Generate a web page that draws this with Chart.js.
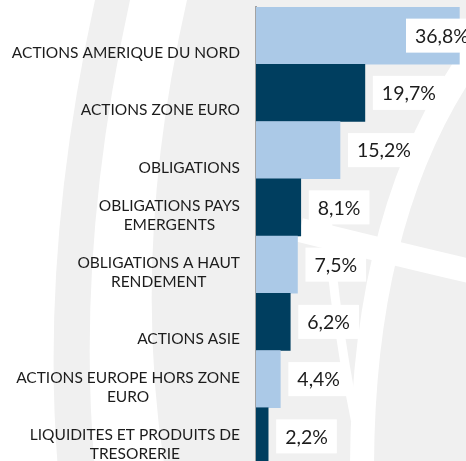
<!DOCTYPE html>
<html>
<head>
<meta charset="utf-8">
<script src="https://cdn.jsdelivr.net/npm/chart.js@4.4.1/dist/chart.umd.min.js"></script>
<style>
  html, body { margin: 0; padding: 0; background: #fff; overflow: hidden; }
  #wrap { position: relative; width: 466px; height: 465px; }
</style>
</head>
<body>
<div id="wrap"><canvas id="chart"></canvas></div>
<script>
// Allocation data (labels split on lines as in the source)
const categories = [
    ["ACTIONS AMERIQUE DU NORD"],
    ["ACTIONS ZONE EURO"],
    ["OBLIGATIONS"],
    ["OBLIGATIONS PAYS", "EMERGENTS"],
    ["OBLIGATIONS A HAUT", "RENDEMENT"],
    ["ACTIONS ASIE"],
    ["ACTIONS EUROPE HORS ZONE", "EURO"],
    ["LIQUIDITES ET PRODUITS DE", "TRESORERIE"]
];
const weights = [36.8, 19.7, 15.2, 8.1, 7.5, 6.2, 4.4, 2.2];

const LIGHT = "#abc9e7";
const DARK = "#003e5f";
const TEXT = "#1c1c1c";
const FONT = "Lato, 'Open Sans', sans-serif";
const WM = "#f0f0f0";

function fmtPct(v) {
    return v.toFixed(1).replace(".", ",") + "%";
}

/**
 * Faint watermark behind the chart
 */
const watermark = {
    id: "watermark",
    beforeDraw(chart) {
        const ctx = chart.ctx;
        ctx.save();
        ctx.fillStyle = "#ffffff";
        ctx.fillRect(0, 0, chart.width, chart.height);
        ctx.fillStyle = WM;
        // left band
        ctx.beginPath();
        ctx.moveTo(95, 0);
        ctx.quadraticCurveTo(40, 250, 58, 470);
        ctx.lineTo(95, 470);
        ctx.quadraticCurveTo(75, 250, 130, 0);
        ctx.closePath();
        ctx.fill();
        // main body
        ctx.beginPath();
        ctx.moveTo(187, 0);
        ctx.quadraticCurveTo(130, 250, 165, 470);
        ctx.lineTo(470, 470);
        ctx.lineTo(470, 0);
        ctx.closePath();
        ctx.fill();
        // white curves
        ctx.strokeStyle = "#ffffff";
        ctx.lineCap = "butt";
        ctx.lineWidth = 24;
        ctx.beginPath();
        ctx.moveTo(478, 48);
        ctx.quadraticCurveTo(362, 205, 362, 470);
        ctx.stroke();
        ctx.lineWidth = 9;
        ctx.beginPath();
        ctx.moveTo(326, 200);
        ctx.quadraticCurveTo(334, 330, 366, 470);
        ctx.stroke();
        ctx.lineWidth = 24;
        ctx.beginPath();
        ctx.moveTo(300, 230);
        ctx.quadraticCurveTo(380, 250, 478, 273);
        ctx.stroke();
        ctx.restore();
    }
};

/**
 * Category labels: block right aligned, lines centred inside the block
 */
const categoryLabels = {
    id: "categoryLabels",
    afterDraw(chart) {
        const ctx = chart.ctx;
        const yScale = chart.scales.y;
        const right = chart.chartArea.left - 16;
        const lineH = 19;
        ctx.save();
        ctx.font = "15.5px " + FONT;
        ctx.fillStyle = TEXT;
        ctx.textAlign = "center";
        ctx.textBaseline = "middle";
        categories.forEach((lines, i) => {
            const yc = yScale.getPixelForTick(i);
            const blockW = Math.max(...lines.map(l => ctx.measureText(l).width));
            const cx = right - blockW / 2;
            const first = lines.length === 1 ? yc + 17.5 : yc - 1.5;
            lines.forEach((l, j) => ctx.fillText(l, cx, first + j * lineH));
        });
        ctx.restore();
    }
};

/**
 * Value boxes at the end of every bar (pushed back inside the canvas)
 */
const valueBoxes = {
    id: "valueBoxes",
    afterDatasetsDraw(chart) {
        const ctx = chart.ctx;
        const meta = chart.getDatasetMeta(0);
        ctx.save();
        ctx.font = "19.5px " + FONT;
        ctx.textBaseline = "middle";
        ctx.textAlign = "left";
        meta.data.forEach((bar, i) => {
            const txt = fmtPct(weights[i]);
            const w = ctx.measureText(txt).width + 18;
            const x0 = Math.min(bar.x + 8, chart.width - 60);
            ctx.fillStyle = "#ffffff";
            ctx.fillRect(x0, bar.y - 17, w, 34);
            ctx.fillStyle = TEXT;
            ctx.fillText(txt, x0 + 9, bar.y + 1);
        });
        ctx.restore();
    }
};

new Chart(document.getElementById("chart"), {
    type: "bar",
    data: {
        labels: categories,
        datasets: [{
            data: weights,
            backgroundColor: weights.map((v, i) => i % 2 === 0 ? LIGHT : DARK),
            borderWidth: 0,
            barPercentage: 1,
            categoryPercentage: 1
        }]
    },
    options: {
        indexAxis: "y",
        responsive: true,
        maintainAspectRatio: false,
        animation: false,
        layout: { padding: { top: 7, left: 0, right: 0, bottom: 0 } },
        plugins: {
            legend: { display: false },
            tooltip: { enabled: false }
        },
        scales: {
            x: {
                display: false,
                min: 0,
                max: 38
            },
            y: {
                grid: { display: false, drawTicks: false },
                border: { display: true, color: "#a3a3a3", width: 2 },
                ticks: { display: false },
                afterFit(scale) { scale.width = 256; }
            }
        }
    },
    plugins: [watermark, categoryLabels, valueBoxes]
});
</script>
</body>
</html>
